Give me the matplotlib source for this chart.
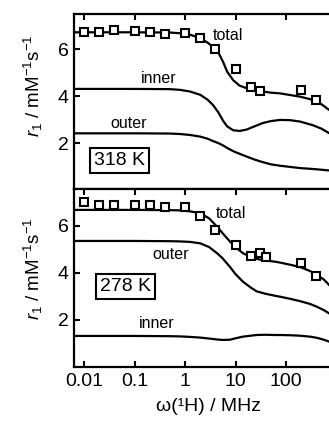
import matplotlib
matplotlib.use("Agg")
import matplotlib.pyplot as plt

plt.rcParams['font.family'] = ['Liberation Sans', 'DejaVu Sans']
plt.rcParams['mathtext.fontset'] = 'custom'
plt.rcParams['mathtext.rm'] = 'Liberation Sans'
plt.rcParams['mathtext.it'] = 'Liberation Sans:italic'

# measured points, 318 K
freq_318 = [0.01, 0.02, 0.04, 0.1, 0.2, 0.4, 1, 2, 4, 10, 20, 30, 200, 400]
r1_318 = [6.72, 6.72, 6.82, 6.79, 6.74, 6.64, 6.69, 6.48, 6.0, 5.16, 4.40, 4.20, 4.27, 3.84]

# measured points, 278 K
freq_278 = [0.01, 0.02, 0.04, 0.1, 0.2, 0.4, 1, 2, 4, 10, 20, 30, 40, 200, 400]
r1_278 = [7.03, 6.89, 6.89, 6.89, 6.89, 6.82, 6.80, 6.44, 5.83, 5.19, 4.72, 4.84, 4.67, 4.41, 3.87]

# fitted curves, 318 K
fit_f_318 = [0.006, 0.1, 0.5, 0.8, 1.25, 2.0, 2.8, 3.6, 4.6, 5.7, 6.8, 9.0, 12, 16.6, 24, 35, 50, 76, 120, 190, 345, 500, 710]
total_318 = [6.72, 6.72, 6.71, 6.68, 6.62, 6.47, 6.28, 6.10, 5.85, 5.45, 5.05, 4.68, 4.45, 4.34, 4.26, 4.20, 4.15, 4.12, 4.05, 3.98, 3.84, 3.66, 3.42]
inner_318 = [4.31, 4.31, 4.30, 4.27, 4.20, 4.06, 3.85, 3.62, 3.30, 2.95, 2.72, 2.55, 2.52, 2.58, 2.72, 2.86, 2.94, 2.99, 2.98, 2.92, 2.76, 2.62, 2.43]
outer_318 = [2.42, 2.42, 2.41, 2.39, 2.35, 2.28, 2.19, 2.09, 2.0, 1.90, 1.80, 1.66, 1.55, 1.43, 1.30, 1.19, 1.10, 1.04, 0.99, 0.94, 0.90, 0.87, 0.84]

# fitted curves, 278 K
fit_f_278 = [0.006, 0.1, 0.5, 0.8, 1.25, 2.0, 3.0, 4.3, 5.5, 7.8, 10, 14, 20, 26, 38, 60, 76, 120, 190, 300, 410, 560, 710]
total_278 = [6.68, 6.68, 6.67, 6.66, 6.62, 6.54, 6.32, 5.97, 5.70, 5.33, 5.10, 4.84, 4.68, 4.60, 4.53, 4.48, 4.44, 4.35, 4.25, 4.08, 3.91, 3.72, 3.49]
outer_278 = [5.36, 5.36, 5.35, 5.34, 5.32, 5.26, 5.10, 4.84, 4.63, 4.25, 3.95, 3.63, 3.38, 3.22, 3.12, 3.03, 2.99, 2.90, 2.80, 2.68, 2.56, 2.42, 2.28]
inner_278 = [1.32, 1.32, 1.31, 1.30, 1.28, 1.25, 1.21, 1.17, 1.15, 1.16, 1.22, 1.29, 1.33, 1.36, 1.37, 1.36, 1.36, 1.35, 1.33, 1.29, 1.24, 1.16, 1.08]

x_ticks = [0.01, 0.1, 1, 10, 100]
x_ticklabels = ['0.01', '0.1', '1', '10', '100']
y_ticks = [2, 4, 6]

fig = plt.figure(figsize=(3.29, 4.21), dpi=100)
ax1 = fig.add_axes([0.2249, 0.5511, 0.798, 0.4157])
ax2 = fig.add_axes([0.2249, 0.1283, 0.798, 0.4228])

ylabel = r'$\mathit{r}_1$ / mM$^{-1}$s$^{-1}$'

for ax in (ax1, ax2):
    ax.set_xscale('log')
    ax.set_xlim(10 ** -2.198, 1000)
    ax.set_yticks(y_ticks)
    ax.set_xticks(x_ticks)
    ax.minorticks_off()
    ax.tick_params(direction='in', length=4, width=1.5, labelsize=14, pad=4)
    for s in ax.spines.values():
        s.set_linewidth(1.6)
    ax.set_ylabel(ylabel, fontsize=13.5)

# 318 K panel
ax1.plot(fit_f_318, total_318, color='black', lw=1.6)
ax1.plot(fit_f_318, inner_318, color='black', lw=1.6)
ax1.plot(fit_f_318, outer_318, color='black', lw=1.6)
ax1.plot(freq_318, r1_318, 's', mfc='white', mec='black', mew=1.5, ms=6, ls='none')
ax1.set_ylim(0.05, 7.5)
ax1.tick_params(axis='x', bottom=False, top=True, labelbottom=False)
ax1.text(3.6, 6.6, 'total', fontsize=11.5, ha='left', va='center')
ax1.text(0.305, 4.77, 'inner', fontsize=11.5, ha='center', va='center')
ax1.text(0.076, 2.82, 'outer', fontsize=11.5, ha='center', va='center')
ax1.text(0.0507, 1.26, '318 K', fontsize=14, ha='center', va='center',
         bbox=dict(boxstyle='square,pad=0.2', fc='white', ec='black', lw=1.5))
ax1.yaxis.set_label_coords(-0.11, 0.59)

# 278 K panel
ax2.plot(fit_f_278, total_278, color='black', lw=1.6)
ax2.plot(fit_f_278, outer_278, color='black', lw=1.6)
ax2.plot(fit_f_278, inner_278, color='black', lw=1.6)
ax2.plot(freq_278, r1_278, 's', mfc='white', mec='black', mew=1.5, ms=6, ls='none')
ax2.set_ylim(0.0, 7.57)
ax2.tick_params(axis='x', bottom=True, top=True)
ax2.set_xticklabels(x_ticklabels)
ax2.text(4.1, 6.54, 'total', fontsize=11.5, ha='left', va='center')
ax2.text(0.516, 4.77, 'outer', fontsize=11.5, ha='center', va='center')
ax2.text(0.275, 1.86, 'inner', fontsize=11.5, ha='center', va='center')
ax2.text(0.066, 3.42, '278 K', fontsize=14, ha='center', va='center',
         bbox=dict(boxstyle='square,pad=0.2', fc='white', ec='black', lw=1.5))
ax2.yaxis.set_label_coords(-0.11, 0.55)
ax2.set_xlabel('ω(¹H) / MHz', fontsize=14)
ax2.xaxis.set_label_coords(0.514, -0.175)

fig.savefig('out.png', dpi=100)
